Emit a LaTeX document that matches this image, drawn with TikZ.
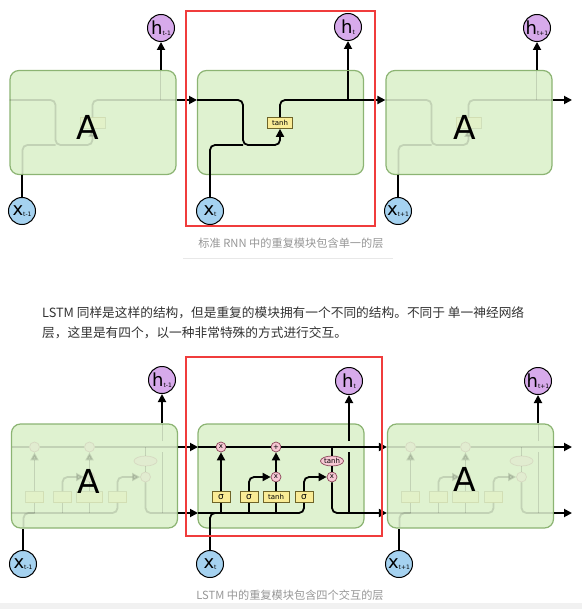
\documentclass[tikz,border=0pt]{standalone}
\usepackage{fontspec}
\setmainfont{DejaVu Sans}
\newfontfamily\cjk{Noto Sans CJK SC}
\usetikzlibrary{arrows.meta,shapes.geometric}

\definecolor{cellfill}{RGB}{223,242,208}
\definecolor{cellline}{RGB}{140,180,115}
\definecolor{hfill}{RGB}{215,170,235}
\definecolor{xfill}{RGB}{165,210,240}
\definecolor{gatefill}{RGB}{250,236,150}
\definecolor{gateline}{RGB}{110,100,40}
\definecolor{opfill}{RGB}{246,200,212}
\definecolor{opline}{RGB}{140,70,90}
\definecolor{framered}{RGB}{240,60,60}
\definecolor{captext}{RGB}{150,150,150}
\definecolor{bodytext}{RGB}{50,50,50}
\definecolor{rulegray}{RGB}{232,232,232}

\tikzset{
  wire/.style={line width=1.8pt, rounded corners=5pt},
  arr/.style={wire, -{Triangle[length=8pt,width=8pt]}},
  cell/.style={draw=cellline, fill=cellfill, line width=1.2pt, rounded corners=9pt,
    minimum width=166pt, minimum height=104pt},
  hcirc/.style={circle, draw=black, line width=1pt, fill=hfill, minimum size=27pt, inner sep=0pt},
  xcirc/.style={hcirc, fill=xfill},
  gate/.style={draw=gateline, fill=gatefill, line width=0.7pt, minimum width=18pt,
    minimum height=11pt, inner sep=0pt, font=\fontsize{9}{9}\selectfont},
  op/.style={circle, draw=opline, fill=opfill, line width=0.7pt, minimum size=10pt,
    inner sep=0pt, font=\fontsize{7}{7}\selectfont},
  oval/.style={ellipse, draw=opline, fill=opfill, line width=0.7pt, minimum width=23pt,
    minimum height=10pt, inner sep=0pt, font=\fontsize{7}{7}\selectfont},
  frame/.style={draw=framered, line width=2pt},
  faded/.style={opacity=0.13},
  bigA/.style={font=\fontsize{33}{33}\selectfont},
  caption/.style={font=\cjk\fontsize{11.2}{11.2}\selectfont, text=captext},
  para/.style={font=\cjk\fontsize{12.7}{12.7}\selectfont, text=bodytext, anchor=west, inner sep=0pt},
}

% circle labels
\newcommand\hlab[1]{{\fontsize{18}{18}\selectfont h}\raisebox{-0.5pt}{\fontsize{6}{6}\selectfont #1}}
\newcommand\xlab[1]{{\fontsize{18}{18}\selectfont x}\raisebox{-0.5pt}{\fontsize{6}{6}\selectfont #1}}
% gate text, left out in the faded cells
\newcommand\gtxt[1]{#1}

% inside of one RNN cell (drawn for the middle cell)
\newcommand\rnncore{%
  \node[gate, minimum width=25pt, font=\fontsize{7}{7}\selectfont] (tn) at (280,123) {\gtxt{tanh}};
  \coordinate (rin) at (197,100);
  \coordinate (rout) at (364,100);
  \coordinate (rx) at (210,175);
  \coordinate (rh) at (348,71);
  \coordinate (rm) at (243,145);
  \draw[arr] (rin) -| (rm) -| (tn);
  \draw[wire] (rx) |- (rm);
  \draw[wire] (tn) |- (rout);
  \draw[wire] (rh |- rout) -- (rh);
}

% inside of one LSTM cell (drawn for the middle cell)
\newcommand\lstmcore{%
  \coordinate (cin) at (198,447);
  \coordinate (cout) at (364,447);
  \coordinate (hin) at (198,513);
  \coordinate (hout) at (364,513);
  \coordinate (xin) at (210,527);
  \coordinate (hj) at (349,513);
  \coordinate (hg1) at (349,452);
  \coordinate (hg2) at (349,441);
  \coordinate (hup) at (349,424);
  \node[op] (fm) at (221,447) {\gtxt{x}};
  \node[op] (add) at (276,447) {\gtxt{+}};
  \node[op] (im) at (276,477) {\gtxt{x}};
  \node[op] (om) at (332,477) {\gtxt{x}};
  \node[oval] (tc) at (332,461) {\gtxt{tanh}};
  \node[gate] (sf) at (221,497) {\gtxt{σ}};
  \node[gate] (si) at (249,497) {\gtxt{σ}};
  \node[gate, minimum width=26pt, font=\fontsize{7}{7}\selectfont] (tg) at (276,497) {\gtxt{tanh}};
  \node[gate] (so) at (304,497) {\gtxt{σ}};
  \draw[wire] (cin) -- (fm) -- (add) -- (cout);
  \draw[arr] (sf) -- (fm);
  \draw[arr] (si) |- (im);
  \draw[wire] (tg) -- (im);
  \draw[arr] (im) -- (add);
  \draw[arr] (so) |- (om);
  \draw[wire] (tc |- cin) -- (tc);
  \draw[wire] (tc) -- (om);
  \draw[wire] (om) |- (hout);
  \draw[wire] (hin) -| (so);
  \draw[wire] (xin) |- (sf |- hin);
  \draw[wire] (sf |- hin) -- (sf);
  \draw[wire] (si |- hin) -- (si);
  \draw[wire] (tg |- hin) -- (tg);
  \draw[wire] (hj) -- (hg1);
  \draw[wire] (hg2) -- (hup);
}

\begin{document}
\begin{tikzpicture}[x=1pt, y=-1pt]
\useasboundingbox (0,0) rectangle (582,609);
\fill[rulegray!60] (0,603) rectangle (582,609);

% ---- RNN chain
\node[cell] (r1) at (93,122.5) {};
\node[cell] (r2) at (280.5,122.5) {};
\node[cell] (r3) at (469,122.5) {};
\begin{scope}[xshift=-187.5pt, faded, name prefix=ra-]
  \renewcommand\gtxt[1]{}
  \rnncore
\end{scope}
\begin{scope}[xshift=188.5pt, faded, name prefix=rc-]
  \renewcommand\gtxt[1]{}
  \rnncore
\end{scope}
\node[bigA] (ra) at (88,127) {A};
\node[bigA] (rc) at (465,127) {A};
\rnncore

\node[hcirc] (h1) at (161,28) {\hlab{t-1}};
\node[hcirc] (h2) at (348,27) {\hlab{t}};
\node[hcirc] (h3) at (537,28) {\hlab{t+1}};
\node[xcirc] (x1) at (22,211) {\xlab{t-1}};
\node[xcirc] (x2) at (210,211) {\xlab{t}};
\node[xcirc] (x3) at (398,211) {\xlab{t+1}};
\coordinate (rend) at (572,100);

\draw[arr] (r1.east |- rin) -- (rin);
\draw[arr] (rout) -- (r3.west |- rout);
\draw[arr] (r3.east |- rout) -- (rend);
\draw[arr] (h1 |- r1.north) -- (h1);
\draw[arr] (h2 |- r2.north) -- (h2);
\draw[arr] (h3 |- r3.north) -- (h3);
\draw[wire] (x1) -- (x1 |- r1.south);
\draw[wire] (x2) -- (rx);
\draw[wire] (x3) -- (x3 |- r3.south);

\draw[frame] (186,11) rectangle (375,226);
\node[caption] (cap1) at (291,243) {标准 RNN 中的重复模块包含单一的层};
\draw[rulegray, line width=0.8pt] (183,258) -- (393,258);

% ---- text
\node[para] (p1) at (42,313) {LSTM 同样是这样的结构，但是重复的模块拥有一个不同的结构。不同于 单一神经网络};
\node[para] (p2) at (42,333) {层，这里是有四个，以一种非常特殊的方式进行交互。};

% ---- LSTM chain
\node[cell] (l1) at (94.5,476) {};
\node[cell] (l2) at (281,476) {};
\node[cell] (l3) at (470.5,476) {};
\begin{scope}[xshift=-186.5pt, faded, name prefix=la-]
  \renewcommand\gtxt[1]{}
  \lstmcore
\end{scope}
\begin{scope}[xshift=189.5pt, faded, name prefix=lc-]
  \renewcommand\gtxt[1]{}
  \lstmcore
\end{scope}
\node[bigA] (la) at (89,481) {A};
\node[bigA] (lc) at (465,479) {A};
\lstmcore

\node[hcirc] (g1) at (162,380) {\hlab{t-1}};
\node[hcirc] (g2) at (349,381) {\hlab{t}};
\node[hcirc] (g3) at (538,381) {\hlab{t+1}};
\node[xcirc] (y1) at (23,564) {\xlab{t-1}};
\node[xcirc] (y2) at (210,564) {\xlab{t}};
\node[xcirc] (y3) at (399,564) {\xlab{t+1}};
\coordinate (cend) at (572,447);
\coordinate (hend) at (572,513);

\draw[arr] (l1.east |- cin) -- (cin);
\draw[arr] (l1.east |- hin) -- (hin);
\draw[arr] (cout) -- (l3.west |- cout);
\draw[arr] (hout) -- (l3.west |- hout);
\draw[arr] (l3.east |- cout) -- (cend);
\draw[arr] (l3.east |- hout) -- (hend);
\draw[arr] (g1 |- l1.north) -- (g1);
\draw[arr] (hup) -- (g2);
\draw[arr] (g3 |- l3.north) -- (g3);
\draw[wire] (y1) -- (y1 |- l1.south);
\draw[wire] (y2) -- (xin);
\draw[wire] (y3) -- (y3 |- l3.south);

\draw[frame] (186,357) rectangle (382,536);
\node[caption] (cap2) at (290,595) {LSTM 中的重复模块包含四个交互的层};
\end{tikzpicture}
\end{document}
